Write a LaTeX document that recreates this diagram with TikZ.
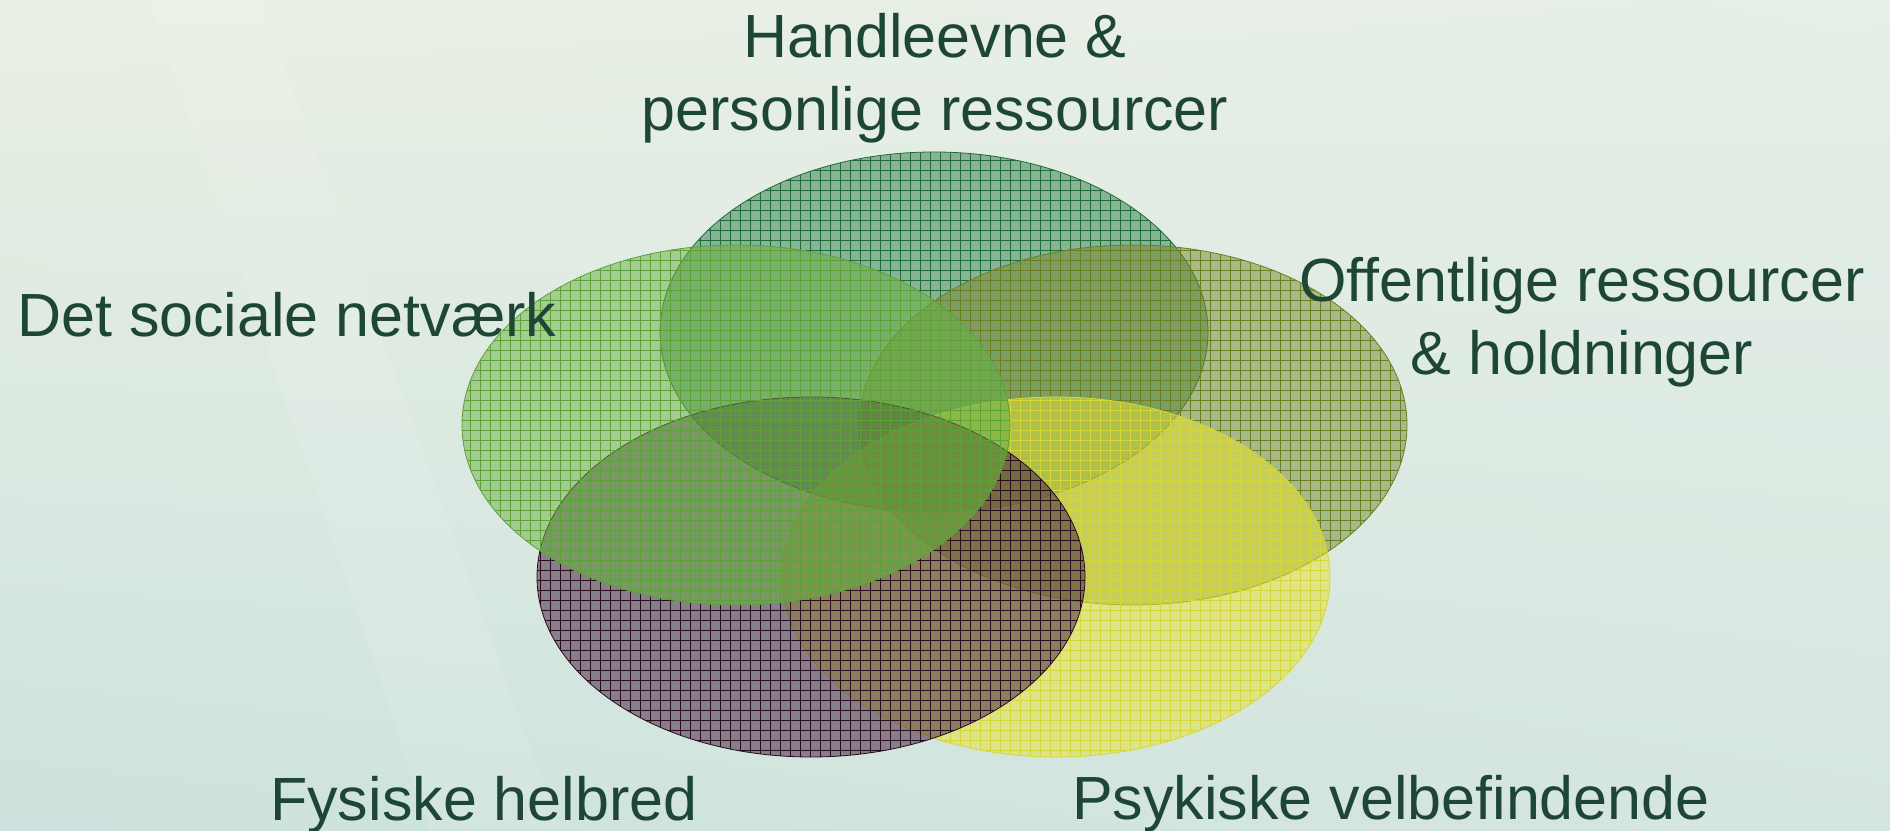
\documentclass[tikz,border=0pt]{standalone}
\usepackage{fontspec}
\setmainfont{Liberation Sans}
\usepackage{tikz}
\usetikzlibrary{shapes.geometric,patterns.meta,shadings}

\definecolor{txtgreen}{HTML}{1E4636}
\definecolor{bgul}{HTML}{EAF0E3}
\definecolor{bgur}{HTML}{E6EFE8}
\definecolor{bgll}{HTML}{CDE2DE}
\definecolor{bglr}{HTML}{D5E6DE}
\definecolor{handfill}{HTML}{2E7D48}
\definecolor{handline}{HTML}{1F6B3A}
\definecolor{netvfill}{HTML}{6AB040}
\definecolor{netvline}{HTML}{5EA03A}
\definecolor{offfill}{HTML}{738A30}
\definecolor{offline}{HTML}{6B7F22}
\definecolor{fysfill}{HTML}{3A1A33}
\definecolor{fysline}{HTML}{2A0A1E}
\definecolor{psykfill}{HTML}{E4E434}
\definecolor{psykline}{HTML}{D6D63A}

\begin{document}
\begin{tikzpicture}[join=round]
	\tikzstyle{venn}=[ellipse, inner sep=0pt, minimum width=548pt, minimum height=360pt, line width=0.8pt]
	\tikzstyle{lbl}=[text=txtgreen, font=\fontsize{61}{73}\selectfont, inner sep=0pt]
	\tikzset{vfill/.style 2 args={draw=#2, preaction={fill=#1, fill opacity=0.5},
		pattern={Hatch[distance=10pt, line width=0.8pt]}, pattern color=#2, fill opacity=0.7}}
	
	\useasboundingbox (0,0) rectangle (1890pt, 830pt);
	\shade[upper left=bgul, upper right=bgur, lower left=bgll, lower right=bglr] (0,0) rectangle (1890pt, 830pt);
	\fill[white, opacity=0.1] (150pt, 830pt) -- (260pt, 830pt) -- (560pt, 0) -- (430pt, 0) -- cycle;
	
	% the five circles
	\node[venn, vfill={handfill}{handline}] (hand) at (934pt, 498pt) {};
	\node[venn, vfill={offfill}{offline}] (offent) at (1133pt, 405pt) {};
	\node[venn, vfill={psykfill}{psykline}] (psyk) at (1056pt, 253pt) {};
	\node[venn, vfill={fysfill}{fysline}] (fys) at (811pt, 253pt) {};
	\node[venn, vfill={netvfill}{netvline}] (netv) at (736pt, 405pt) {};
	
	% labels
	\node[lbl, align=center] (handtxt) at (935pt, 752pt) {Handleevne \&\\personlige ressourcer};
	\node[lbl, anchor=base west] (netvtxt) at (17pt, 493pt) {Det sociale netværk};
	\node[lbl, align=center] (offtxt) at (1582pt, 508pt) {Offentlige ressourcer\\\& holdninger};
	\node[lbl, anchor=base west] (fystxt) at (270pt, 10pt) {Fysiske helbred};
	\node[lbl, anchor=base west] (psyktxt) at (1072pt, 11pt) {Psykiske velbefindende};
\end{tikzpicture}
\end{document}
